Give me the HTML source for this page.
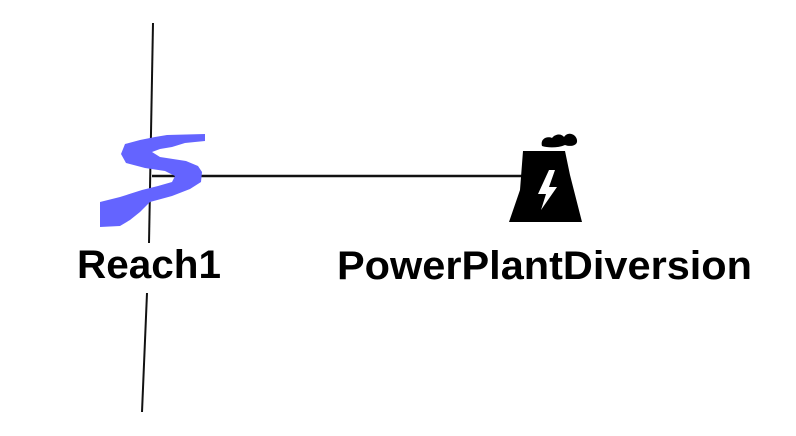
<!DOCTYPE html>
<html><head><style>html,body{margin:0;padding:0;background:#fff;}svg{display:block}</style></head>
<body>
<svg width="796" height="436" viewBox="0 0 796 436" xmlns="http://www.w3.org/2000/svg">
<rect width="796" height="436" fill="#fff"/>
<line x1="153" y1="23" x2="149" y2="243" stroke="#111" stroke-width="2"/>
<line x1="147" y1="293" x2="142" y2="412" stroke="#111" stroke-width="2"/>
<line x1="152" y1="176" x2="522" y2="176" stroke="#111" stroke-width="2.5"/>
<path d="M167,135 L205,134 L205,141 L185,143 L172,147 L160,149 L152,152 L160,157 L186,161 L198,166 L202,172 L201,182 L190,189 L172,196 L150,202 L140,212 L130,220 L120,226 L100,227 L100,202 L120,197 L142,190 L158,186 L172,182 L175,176 L165,171 L145,168 L126,163 L121,154 L125,144 L140,140 L155,137 Z" fill="#6464ff"/>
<path d="M523,151 L565,151 L570,175 L582,222 L509,222 L520,190 Z" fill="#000"/>
<path d="M542,146 C540,138 548,136 552,138 C556,133 562,134 564,137 C568,131 576,134 577,140 C578,146 570,147 565,145 C558,148 548,148 542,146 Z" fill="#000"/>
<path d="M549,170 L538,194 L546,194 L541,210 L557,187 L549,187 L555,170 Z" fill="#fff"/>
<text x="77" y="278" font-family="Liberation Sans, Arial, sans-serif" font-weight="bold" font-size="40" textLength="144" lengthAdjust="spacingAndGlyphs" fill="#000">Reach1</text>
<text x="337" y="279" font-family="Liberation Sans, Arial, sans-serif" font-weight="bold" font-size="40" textLength="415" lengthAdjust="spacingAndGlyphs" fill="#000">PowerPlantDiversion</text>
</svg>
</body></html>
